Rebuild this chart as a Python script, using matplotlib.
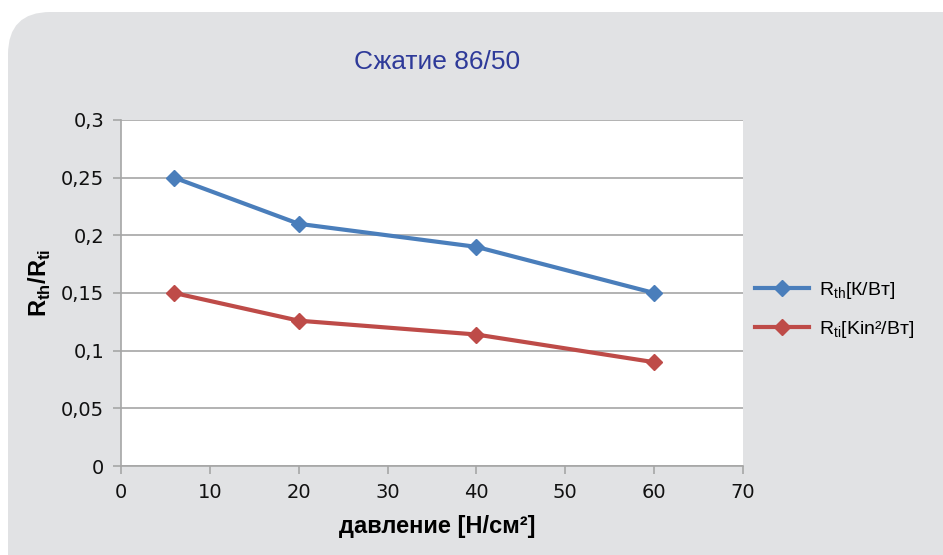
import matplotlib.pyplot as plt
from matplotlib.patches import FancyBboxPatch

pressure = [6, 20, 40, 60]
r_th = [0.25, 0.21, 0.19, 0.15]
r_ti = [0.15, 0.126, 0.114, 0.09]
y_ticks = [0, 0.05, 0.1, 0.15, 0.2, 0.25, 0.3]
y_labels = ["0", "0,05", "0,1", "0,15", "0,2", "0,25", "0,3"]
x_ticks = [0, 10, 20, 30, 40, 50, 60, 70]

blue = "#4a7ebb"
red = "#be4b48"
grid = "#a6a6a6"

fig = plt.figure(figsize=(9.43, 5.55), dpi=100)
fig.patch.set_facecolor("white")

# rounded grey panel behind the chart
panel = FancyBboxPatch((8 / 943, -0.1), 1.2, 1.1 - 12 / 555,
                       boxstyle="round,pad=0,rounding_size=0.045",
                       transform=fig.transFigure, facecolor="#e1e2e4",
                       edgecolor="none", zorder=-10,
                       mutation_aspect=943 / 555)
fig.patches.append(panel)

ax = fig.add_axes([121 / 943, 1 - 466 / 555, 622 / 943, 346 / 555])
ax.set_facecolor("white")

ax.plot(pressure, r_th, color=blue, lw=3, marker="D", ms=8.5,
        label=r"R$_{\mathregular{th}}$[К/Вт]")
ax.plot(pressure, r_ti, color=red, lw=3, marker="D", ms=8.5,
        label=r"R$_{\mathregular{ti}}$[Kin²/Вт]")

ax.set_xlim(0, 70)
ax.set_ylim(0, 0.3)
ax.set_xticks(x_ticks)
ax.set_yticks(y_ticks)
ax.set_yticklabels(y_labels)
ax.tick_params(labelsize=14, colors=grid, labelcolor="#111111", length=6,
               width=1.2, pad=6)
ax.yaxis.grid(True, color=grid, lw=1.2)
ax.set_axisbelow(True)
for side in ("top", "right"):
    ax.spines[side].set_visible(False)
for side in ("left", "bottom"):
    ax.spines[side].set_color(grid)
    ax.spines[side].set_linewidth(1.2)

ax.set_xlabel("давление [Н/см²]", fontsize=17, fontweight="bold",
              family="Liberation Sans", va="center")
ax.xaxis.set_label_coords(0.508, -0.176)
ax.set_ylabel(r"R$_{\mathregular{th}}$/R$_{\mathregular{ti}}$", fontsize=17,
              fontweight="bold", family="Liberation Sans")
ax.yaxis.set_label_coords(-0.109, 0.53)

fig.text(437 / 943, 1 - 62 / 555, "Сжатие 86/50", ha="center", va="center",
         fontsize=19, color="#2e3a99", family="Liberation Sans")

fig.legend(loc="center left", bbox_to_anchor=(737 / 943, 1 - 310 / 555),
           frameon=False, prop={"family": "Liberation Sans", "size": 14},
           handlelength=2.8, labelspacing=0.9, handletextpad=0.5)

fig.savefig("out.png", dpi=100)
